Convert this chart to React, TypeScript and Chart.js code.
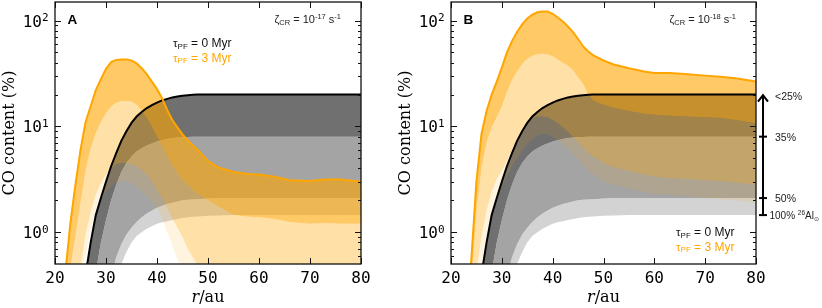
import React, { useEffect, useRef } from 'react';
import { Chart, registerables } from 'chart.js';

Chart.register(...registerables);

// ---------------- data ----------------
// radial grid (au) shared by all curves
const R = [20, 22, 23, 24, 25, 26, 27, 28, 29, 30, 31, 32, 33, 34, 35, 36, 37, 38, 39, 40, 41, 42, 43, 44, 45, 46, 47, 48, 50, 52, 55, 58, 60, 63, 66, 70, 73, 76, 80];

const X_TICKS = [20, 30, 40, 50, 60, 70, 80];
const Y_MAJOR = [1, 10, 100];

// tau_PF = 0 Myr curves (grey), for 26Al fractions <25%, 35%, 50%, 100%
const G1 = [0.05, 0.1, 0.15, 0.22, 0.3, 0.4, 0.8, 1.45, 2.1, 3.0, 4.2, 5.6, 7.3, 9.0, 10.8, 12.4, 13.7, 14.9, 15.9, 16.8, 17.6, 18.2, 18.8, 19.2, 19.5, 19.7, 19.9, 20, 20, 20, 20, 20, 20, 20, 20, 20, 20, 20, 20];
const G2 = [0.05, 0.05, 0.06, 0.08, 0.1, 0.15, 0.25, 0.42, 0.8, 1.3, 2.0, 2.8, 3.7, 4.5, 5.2, 5.8, 6.2, 6.6, 6.9, 7.2, 7.4, 7.6, 7.75, 7.85, 7.9, 7.95, 8, 8, 8, 8, 8, 8, 8, 8, 8, 8, 8, 8, 8];
const G3 = [0.05, 0.05, 0.05, 0.05, 0.06, 0.08, 0.1, 0.14, 0.18, 0.25, 0.38, 0.58, 0.77, 0.95, 1.1, 1.25, 1.38, 1.5, 1.6, 1.7, 1.78, 1.85, 1.9, 1.95, 2.0, 2.02, 2.04, 2.05, 2.08, 2.1, 2.1, 2.1, 2.1, 2.1, 2.1, 2.1, 2.1, 2.1, 2.1];
const G4 = [0.05, 0.05, 0.05, 0.05, 0.05, 0.06, 0.08, 0.1, 0.14, 0.2, 0.27, 0.37, 0.5, 0.65, 0.8, 0.92, 1.0, 1.08, 1.14, 1.2, 1.24, 1.27, 1.3, 1.33, 1.36, 1.38, 1.4, 1.41, 1.43, 1.44, 1.45, 1.45, 1.45, 1.45, 1.45, 1.45, 1.45, 1.45, 1.45];

// tau_PF = 3 Myr curves (orange), panel A (zeta_CR = 1e-17)
const A_C1 = [0.1, 0.4, 1.2, 2.8, 6, 11, 15.5, 22, 28, 35, 40.5, 42.5, 43, 43, 42, 39.5, 35.5, 31, 26.5, 22.5, 18.5, 14.3, 11.5, 9.8, 8.4, 7.4, 6.6, 6.0, 4.7, 4.1, 3.7, 3.55, 3.5, 3.35, 3.1, 3.05, 3.15, 3.15, 3.0];
const A_C2 = [0.05, 0.2, 0.45, 0.9, 1.9, 3.8, 6.2, 8.6, 11, 13.3, 15.3, 16.8, 17.3, 17.4, 17.2, 16, 14, 12, 10, 8, 6.5, 5.2, 4.3, 3.6, 3.1, 2.8, 2.5, 2.3, 2.0, 1.75, 1.45, 1.4, 1.38, 1.33, 1.25, 1.2, 1.22, 1.2, 1.2];
const A_C3 = [0.05, 0.1, 0.2, 0.3, 0.45, 0.95, 1.55, 2.25, 2.9, 3.5, 4.05, 4.4, 4.5, 4.5, 4.4, 4.2, 3.9, 3.5, 3.0, 2.5, 2.1, 1.7, 1.35, 1.1, 0.9, 0.7, 0.58, 0.48, 0.38, 0.32, 0.28, 0.25, 0.24, 0.22, 0.2, 0.2, 0.2, 0.2, 0.2];
const A_C4 = [0.05, 0.08, 0.12, 0.2, 0.33, 0.6, 1.05, 1.6, 2.05, 2.4, 2.7, 2.95, 3.05, 3.05, 2.9, 2.7, 2.45, 2.2, 1.95, 1.7, 1.35, 1.0, 0.75, 0.55, 0.42, 0.35, 0.3, 0.27, 0.22, 0.2, 0.18, 0.16, 0.15, 0.15, 0.15, 0.15, 0.15, 0.15, 0.15];

// tau_PF = 3 Myr curves (orange), panel B (zeta_CR = 1e-18)
const B_C1 = [0.05, 0.1, 0.2, 0.55, 3.0, 8.5, 14, 20, 26.5, 36, 50, 64, 78, 92, 105, 114, 120, 122, 122, 116, 107, 98, 88, 78, 67, 57, 51, 47, 42, 38.5, 35.5, 33, 32, 32, 31.3, 30.2, 29.5, 28.5, 26.5];
const B_C2 = [0.05, 0.1, 0.2, 0.35, 1.5, 4.0, 7.0, 9.8, 12.2, 15.5, 21, 27.5, 33, 39, 43.5, 46.5, 48.2, 48.5, 47.8, 46, 43, 40, 37.5, 34, 29, 25, 20, 17.5, 16, 15, 14, 13.2, 12.9, 12.6, 12.4, 12.2, 12, 11.5, 10.7];
const B_C3 = [0.05, 0.1, 0.15, 0.25, 0.42, 0.9, 1.6, 2.4, 3.2, 3.8, 4.7, 6.0, 7.5, 9.0, 10.5, 11.8, 12.4, 12.5, 12.2, 11.5, 10.7, 9.8, 8.9, 8.0, 7.1, 6.3, 5.6, 5.2, 4.5, 4.1, 3.8, 3.5, 3.35, 3.25, 3.2, 3.1, 3.05, 2.95, 2.8];
const B_C4 = [0.05, 0.08, 0.12, 0.2, 0.32, 0.5, 0.9, 1.4, 2.0, 2.7, 3.4, 4.2, 5.0, 5.9, 6.8, 7.6, 8.2, 8.5, 8.4, 8.0, 7.4, 6.8, 6.1, 5.5, 4.9, 4.3, 3.8, 3.5, 3.0, 2.8, 2.6, 2.4, 2.3, 2.25, 2.2, 2.1, 2.05, 2.0, 1.9];

// 26Al annotation (panel B)
const ANNOT_VALUES = [20, 8, 2.1, 1.45];
const ANNOT_LABELS = ['<25%', '35%', '50%', '100%'];

// ---------------- styles ----------------
const ORANGE = '#FFA500';
const BAND1 = 'rgba(255,165,0,0.6)';
const BAND2 = 'rgba(255,165,0,0.35)';
const BAND3 = 'rgba(255,165,0,0.12)';
const GREY1 = '#707070';
const GREY2 = '#a4a4a4';
const GREY3 = '#d3d3d3';
const SANS = '"Liberation Sans", "DejaVu Sans", sans-serif';
const MONO = '"DejaVu Sans Mono", monospace';
const SERIF = '"DejaVu Serif", serif';

type Run = { t: string; size: number; dy?: number; style?: string; weight?: string };

function fontOf(r: Run, family: string) {
  return [r.style || '', r.weight || '', `${r.size}px`, family].filter(Boolean).join(' ');
}

function drawRuns(ctx: CanvasRenderingContext2D, runs: Run[], x: number, y: number, color: string, family: string, align: 'left' | 'right' | 'center' = 'left') {
  let total = 0;
  const widths = runs.map((r) => {
    ctx.font = fontOf(r, family);
    const w = ctx.measureText(r.t).width;
    total += w;
    return w;
  });
  let cx = align === 'right' ? x - total : align === 'center' ? x - total / 2 : x;
  ctx.fillStyle = color;
  ctx.textAlign = 'left';
  ctx.textBaseline = 'alphabetic';
  runs.forEach((r, i) => {
    ctx.font = fontOf(r, family);
    ctx.fillText(r.t, cx, y + (r.dy || 0));
    cx += widths[i];
  });
}

interface Panel {
  label: string;
  zetaExp: string;
  c1: number[];
  c2: number[];
  c3: number[];
  c4: number[];
  width: number;
  yWidth: number;
  rightPad: number;
  titlePad: number;
  legendDX: number;
  legendY: number;
  annot: boolean;
}

const PANELS: Panel[] = [
  { label: 'A', zetaExp: '-17', c1: A_C1, c2: A_C2, c3: A_C3, c4: A_C4, width: 393, yWidth: 55, rightPad: 32, titlePad: 0, legendDX: 118, legendY: 47, annot: false },
  { label: 'B', zetaExp: '-18', c1: B_C1, c2: B_C2, c3: B_C3, c4: B_C4, width: 429, yWidth: 58, rightPad: 66, titlePad: 3, legendDX: 225, legendY: 236, annot: true },
];

function makeDecor(p: Panel) {
  return {
    id: 'decor' + p.label,
    afterDraw(chart: any) {
      const { ctx, chartArea: a, scales } = chart;
      const x = scales.x;
      const y = scales.y;
      const line = (x1: number, y1: number, x2: number, y2: number) => {
        ctx.beginPath();
        ctx.moveTo(x1, y1);
        ctx.lineTo(x2, y2);
        ctx.stroke();
      };
      ctx.save();
      // ticks (inward, all four sides)
      ctx.strokeStyle = '#111';
      ctx.lineWidth = 1;
      for (const v of X_TICKS) {
        const px = Math.round(x.getPixelForValue(v)) + 0.5;
        line(px, a.bottom, px, a.bottom - 6);
        line(px, a.top, px, a.top + 6);
      }
      for (let d = -1; d <= 2; d++) {
        for (let m = 1; m <= 9; m++) {
          const v = m * Math.pow(10, d);
          if (v <= 0.5 || v >= 150) continue;
          const py = Math.round(y.getPixelForValue(v)) + 0.5;
          const len = m === 1 ? 6 : 3;
          line(a.left, py, a.left + len, py);
          line(a.right, py, a.right - len, py);
        }
      }
      // frame
      ctx.lineWidth = 1.3;
      ctx.strokeRect(a.left, a.top, a.right - a.left, a.bottom - a.top);

      // y tick labels 10^n
      for (const v of Y_MAJOR) {
        const py = y.getPixelForValue(v);
        const e = String(Math.round(Math.log10(v)));
        ctx.fillStyle = '#000';
        ctx.font = `16px ${MONO}`;
        ctx.textAlign = 'right';
        ctx.textBaseline = 'alphabetic';
        ctx.fillText('10', a.left - 13, py + 6);
        ctx.font = `11px ${MONO}`;
        ctx.textAlign = 'left';
        ctx.fillText(e, a.left - 13, py + 0.5);
      }

      // x axis title r/au
      drawRuns(ctx, [{ t: 'r', size: 16, style: 'italic' }, { t: '/au', size: 16 }], (a.left + a.right) / 2, 302, '#000', SERIF, 'center');

      // panel label
      drawRuns(ctx, [{ t: p.label, size: 13.5, weight: 'bold' }], a.left + 12.5, 24, '#000', SANS);

      // zeta_CR text
      drawRuns(
        ctx,
        [
          { t: 'ζ', size: 11 },
          { t: 'CR', size: 7.5, dy: 2 },
          { t: ' = 10', size: 11 },
          { t: p.zetaExp, size: 7.5, dy: -4.5 },
          { t: ' s', size: 11 },
          { t: '-1', size: 7.5, dy: -4.5 },
        ],
        a.right - 20,
        23,
        '#222',
        SANS,
        'right'
      );

      // legend
      const lx = a.left + p.legendDX;
      drawRuns(ctx, [{ t: 'τ', size: 11.5 }, { t: 'PF', size: 8, dy: 1.5 }, { t: ' = 0 Myr', size: 12 }], lx, p.legendY, '#111', SANS);
      drawRuns(ctx, [{ t: 'τ', size: 11.5 }, { t: 'PF', size: 8, dy: 1.5 }, { t: ' = 3 Myr', size: 12 }], lx, p.legendY + 14.5, ORANGE, SANS);

      // 26Al annotation arrow
      if (p.annot) {
        const ax = a.right + 7;
        const yTop = y.getPixelForValue(ANNOT_VALUES[0]);
        const yBot = y.getPixelForValue(ANNOT_VALUES[ANNOT_VALUES.length - 1]);
        ctx.strokeStyle = '#000';
        ctx.lineWidth = 2;
        line(ax, yBot, ax, yTop + 1);
        ctx.beginPath();
        ctx.moveTo(ax - 5, yTop + 7);
        ctx.lineTo(ax, yTop + 0.5);
        ctx.lineTo(ax + 5, yTop + 7);
        ctx.stroke();
        ANNOT_VALUES.forEach((v, i) => {
          const py = y.getPixelForValue(v);
          if (i > 0) line(ax - 4, py, ax + 4, py);
          if (i === ANNOT_VALUES.length - 1) {
            drawRuns(
              ctx,
              [
                { t: ANNOT_LABELS[i] + ' ', size: 10 },
                { t: '26', size: 6.5, dy: -4 },
                { t: 'Al', size: 10 },
                { t: '⊙', size: 6, dy: 2 },
              ],
              ax + 6.5,
              py + 4,
              '#222',
              SANS
            );
          } else {
            drawRuns(ctx, [{ t: ANNOT_LABELS[i], size: 10.5 }], ax + 12, py + (i === 0 ? 5.5 : 4), '#222', SANS);
          }
        });
      }
      ctx.restore();
    },
  };
}

function makeConfig(p: Panel): any {
  const ds = (vals: number[], extra: any) => ({
    data: R.map((r, i) => ({ x: r, y: vals[i] })),
    pointRadius: 0,
    pointHoverRadius: 0,
    borderWidth: 0,
    borderColor: 'transparent',
    tension: 0,
    ...extra,
  });
  return {
    type: 'line',
    data: {
      datasets: [
        ds(p.c1, { borderColor: ORANGE, borderWidth: 2, fill: false, order: 0 }),
        ds(G1, { borderColor: '#000', borderWidth: 2, fill: false, order: 1 }),
        ds(p.c1, { fill: 3, backgroundColor: BAND1, order: 2 }),
        ds(p.c2, { fill: 4, backgroundColor: BAND2, order: 3 }),
        ds(p.c3, { fill: 5, backgroundColor: BAND3, order: 4 }),
        ds(p.c4, { fill: false, order: 5 }),
        ds(G1, { fill: 7, backgroundColor: GREY1, order: 6 }),
        ds(G2, { fill: 8, backgroundColor: GREY2, order: 7 }),
        ds(G3, { fill: 9, backgroundColor: GREY3, order: 8 }),
        ds(G4, { fill: false, order: 9 }),
      ],
    },
    options: {
      animation: false,
      responsive: false,
      devicePixelRatio: 1,
      layout: { padding: { left: 0, top: 2, right: p.rightPad, bottom: 0 } },
      plugins: { legend: { display: false }, tooltip: { enabled: false } },
      events: [],
      scales: {
        x: {
          type: 'linear',
          min: 20,
          max: 80,
          ticks: { stepSize: 10, color: '#000', font: { family: MONO, size: 16 }, padding: 5, maxRotation: 0, autoSkip: false },
          grid: { display: false, drawTicks: false },
          border: { display: false },
          afterFit: (s: any) => {
            s.height = 44;
          },
        },
        y: {
          type: 'logarithmic',
          min: 0.5,
          max: 150,
          ticks: { display: false },
          grid: { display: false, drawTicks: false },
          border: { display: false },
          title: {
            display: true,
            text: 'CO content (%)',
            color: '#000',
            font: { family: SERIF, size: 16 },
            padding: { top: p.titlePad, bottom: 0 },
          },
          afterFit: (s: any) => {
            s.width = p.yWidth;
          },
        },
      },
    },
    plugins: [makeDecor(p)],
  };
}

function PanelChart({ p, left }: { p: Panel; left: number }) {
  const ref = useRef<HTMLCanvasElement | null>(null);
  useEffect(() => {
    if (!ref.current) return;
    const chart = new Chart(ref.current, makeConfig(p));
    return () => chart.destroy();
  }, [p]);
  return (
    <canvas
      ref={ref}
      width={p.width}
      height={308}
      style={{ position: 'absolute', left, top: 0, width: p.width, height: 308, display: 'block' }}
    />
  );
}

export default function App() {
  return (
    <div style={{ position: 'fixed', left: 0, top: 0, width: 822, height: 308, background: '#fff', overflow: 'hidden' }}>
      <PanelChart p={PANELS[0]} left={0} />
      <PanelChart p={PANELS[1]} left={393} />
    </div>
  );
}
